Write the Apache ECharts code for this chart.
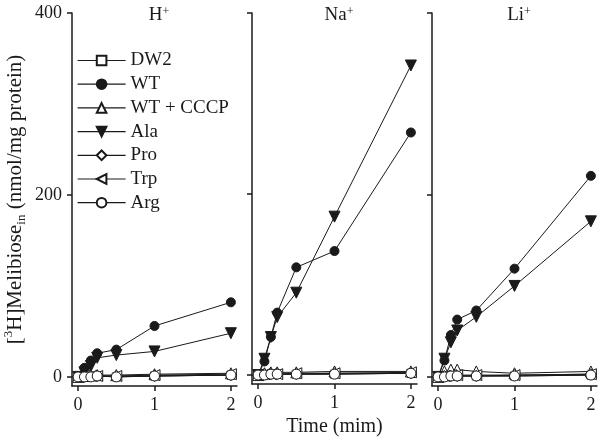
<!DOCTYPE html>
<html>
<head>
<meta charset="utf-8">
<script src="https://cdn.jsdelivr.net/npm/echarts@6/dist/echarts.min.js"></script>
<style>
  html, body { margin: 0; padding: 0; background: #fff; }
  #chart { width: 600px; height: 442px; }
</style>
</head>
<body>
<div id="chart"></div>
<script>
// time points (min)
const times = [0, 0.083, 0.167, 0.25, 0.5, 1, 2]
const seriesNames = ['DW2', 'WT', 'WT + CCCP', 'Ala', 'Pro', 'Trp', 'Arg']
const titleLabels = ['H', 'Na', 'Li']
const yTicks = [0, 200, 400]
const xTicks = [0, 1, 2]

// H+ panel
const hDW2 = [0, 0, 0, 1, 0, 1, 2]
const hWT = [0, 10, 18, 26, 30, 56, 82]
const hCCCP = [0, 1, 2, 2, 2, 3, 4]
const hAla = [0, 5, 12, 21, 24, 28, 48]
const hPro = [0, 0, 1, 1, 1, 1, 2]
const hTrp = [0, 1, 1, 1, 1, 2, 3]
const hArg = [0, 0, 0, 1, 0, 1, 2]

// Na+ panel
const naDW2 = [0, 0, 1, 1, 1, 1, 2]
const naWT = [0, 15, 42, 69, 119, 137, 268]
const naCCCP = [0, 2, 3, 3, 3, 4, 4]
const naAla = [0, 18, 42, 64, 91, 175, 342]
const naPro = [0, 1, 1, 1, 1, 2, 2]
const naTrp = [0, 1, 1, 1, 2, 2, 3]
const naArg = [0, 0, 1, 1, 1, 1, 2]

// Li+ panel
const liDW2 = [0, 0, 1, 1, 1, 1, 2]
const liWT = [0, 18, 46, 63, 73, 119, 221]
const liCCCP = [0, 6, 8, 8, 6, 4, 6]
const liAla = [0, 20, 38, 51, 66, 100, 171]
const liPro = [0, 1, 1, 1, 1, 2, 3]
const liTrp = [0, 1, 2, 2, 2, 2, 3]
const liArg = [0, 0, 1, 1, 1, 1, 2]

const panelData = [
  [hDW2, hWT, hCCCP, hAla, hPro, hTrp, hArg],
  [naDW2, naWT, naCCCP, naAla, naPro, naTrp, naArg],
  [liDW2, liWT, liCCCP, liAla, liPro, liTrp, liArg],
]

const FONT = "'Liberation Serif', 'Times New Roman', serif"
const INK = '#1a1a1a'

const markers = {
  'DW2': { symbol: 'rect', size: 8, fill: '#fff', rotate: 0 },
  'WT': { symbol: 'circle', size: 9, fill: INK, rotate: 0 },
  'WT + CCCP': { symbol: 'triangle', size: 11, fill: '#fff', rotate: 0 },
  'Ala': { symbol: 'triangle', size: 11, fill: INK, rotate: 180 },
  'Pro': { symbol: 'diamond', size: 11, fill: '#fff', rotate: 0 },
  'Trp': { symbol: 'triangle', size: 11, fill: '#fff', rotate: 90 },
  'Arg': { symbol: 'circle', size: 10, fill: '#fff', rotate: 0 },
}

const gridLefts = [72, 252, 432]

const grids = gridLefts.map((left) => ({ left, top: 13, width: 165, height: 373 }))

const xAxes = gridLefts.map((_, i) => ({
  gridIndex: i,
  type: 'value',
  min: -0.08,
  max: 2.08,
  splitLine: { show: false },
  axisLine: { onZero: false, lineStyle: { color: INK, width: 1.5 } },
  axisTick: { customValues: xTicks, length: 5, lineStyle: { color: INK, width: 1.5 } },
  axisLabel: { customValues: xTicks, margin: 10, color: INK, fontSize: 18, fontFamily: FONT },
  name: i === 1 ? 'Time (mim)' : '',
  nameLocation: 'middle',
  nameGap: 27,
  nameTextStyle: { color: INK, fontSize: 20, fontFamily: FONT },
}))

const yAxes = gridLefts.map((_, i) => ({
  gridIndex: i,
  type: 'value',
  min: -10,
  max: 400,
  splitLine: { show: false },
  axisLine: { show: true, onZero: false, lineStyle: { color: INK, width: 1.5 } },
  axisTick: { show: true, customValues: yTicks, length: 5, lineStyle: { color: INK, width: 1.5 } },
  axisLabel: {
    show: i === 0,
    customValues: yTicks,
    margin: 10,
    color: INK,
    fontSize: 18,
    fontFamily: FONT,
  },
  name: i === 0 ? '[{sup|3}H]Melibiose{sub|in} (nmol/mg protein)' : '',
  nameLocation: 'middle',
  nameRotate: 90,
  nameGap: 44,
  nameTextStyle: {
    color: INK,
    fontSize: 21,
    fontFamily: FONT,
    lineHeight: 26,
    rich: {
      sup: { fontSize: 13, fontFamily: FONT, color: INK, verticalAlign: 'top', lineHeight: 26 },
      sub: { fontSize: 13, fontFamily: FONT, color: INK, verticalAlign: 'bottom', lineHeight: 18 },
    },
  },
}))

const series = []
panelData.forEach((sets, p) => {
  sets.forEach((values, k) => {
    const name = seriesNames[k]
    const m = markers[name]
    series.push({
      name,
      type: 'line',
      xAxisIndex: p,
      yAxisIndex: p,
      data: times.map((t, j) => [t, values[j]]),
      symbol: m.symbol,
      symbolSize: m.size,
      symbolRotate: m.rotate,
      showAllSymbol: true,
      lineStyle: { color: INK, width: 1 },
      itemStyle: { color: m.fill, borderColor: INK, borderWidth: 1 },
      emphasis: { disabled: true },
      animation: false,
    })
  })
})

const titles = gridLefts.map((left, i) => ({
  text: titleLabels[i] + '{sup|+}',
  left: left + 82,
  top: 1,
  textAlign: 'center',
  textStyle: {
    color: INK,
    fontSize: 19,
    fontWeight: 'normal',
    fontFamily: FONT,
    rich: {
      sup: { fontSize: 12, fontFamily: FONT, color: INK, verticalAlign: 'top', lineHeight: 19 },
    },
  },
}))

const chart = echarts.init(document.getElementById('chart'))
chart.setOption({
  backgroundColor: '#fff',
  animation: false,
  title: titles,
  legend: {
    data: seriesNames,
    orient: 'vertical',
    left: 77,
    top: 51,
    padding: 0,
    itemWidth: 48,
    itemHeight: 12,
    itemGap: 4.7,
    lineStyle: { width: 1.2 },
    textStyle: { color: INK, fontSize: 19, fontFamily: FONT, lineHeight: 19 },
  },
  grid: grids,
  xAxis: xAxes,
  yAxis: yAxes,
  series,
})
</script>
</body>
</html>
